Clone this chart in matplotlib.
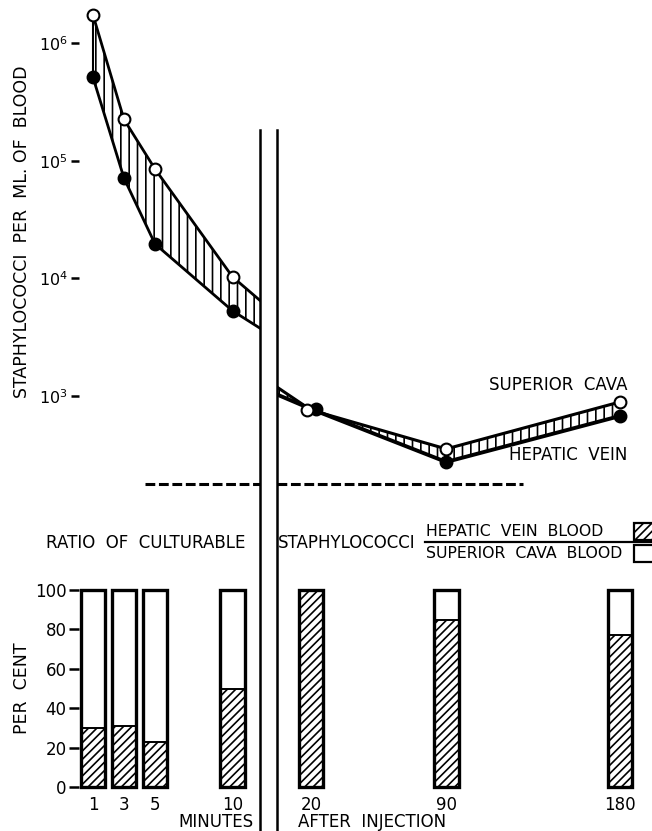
import matplotlib
matplotlib.use("Agg")
import matplotlib.pyplot as plt
from matplotlib.patches import Rectangle
from matplotlib.lines import Line2D
from matplotlib.transforms import ScaledTranslation

# ---------------- data ----------------
times_early = [1, 3, 5, 10]            # minutes, before the axis break
times_late = [20, 90, 180]             # minutes, after the axis break
cava_early = [1.73e6, 2.24e5, 8.5e4, 1.03e4]   # superior cava (open circles)
hep_early = [5.1e5, 7.1e4, 1.96e4, 5.3e3]      # hepatic vein (filled circles)
cava_late = [760, 355, 890]
hep_late = [776, 275, 676]
cava_entry = 1190     # level where the superior cava line re-enters after the break
hep_entry = 1030      # level where the hepatic vein line re-enters after the break
limit_level = 180     # dashed horizontal line
limit_from = 4.35
limit_to = 130

bar_times = [1, 3, 5, 10, 20, 90, 180]
bar_labels = ["1", "3", "5", "10", "20", "90", "180"]
hep_pct = [30, 31, 23, 50, 100, 85, 77]       # hatched part (hepatic vein blood)
pct_ticks = [0, 20, 40, 60, 80, 100]
log_ticks = [1e3, 1e4, 1e5, 1e6]

# ---------------- layout helpers ----------------
W, H = 652, 831
plt.rcParams["font.family"] = ["DejaVu Sans"]
plt.rcParams["hatch.linewidth"] = 1.2
fig = plt.figure(figsize=(W / 100, H / 100), dpi=100)


def ax_px(x0, y0, x1, y1):
    return fig.add_axes([x0 / W, 1 - y1 / H, (x1 - x0) / W, (y1 - y0) / H])


def t_left(px):   # pixel -> minutes, early panel
    return (px - 77.5) / 15.5


def t_right(px):  # pixel -> minutes, late panel
    return 20 + (px - 311) / 1.931


def fig_text(x, y, s, **kw):
    kw.setdefault("fontsize", 12)
    kw.setdefault("va", "center")
    fig.text(x / W, 1 - y / H, s, **kw)


# ---------------- top panel (log scale) ----------------
TOP0, TOP1 = 0, 495
dec = 117.67
ylo = 10 ** (6 - (TOP1 - 43) / dec)
yhi = 10 ** (6 + 43 / dec)

axTL = ax_px(79, TOP0, 260, TOP1)
axTR = ax_px(277, TOP0, 652, TOP1)
for ax in (axTL, axTR):
    ax.set_yscale("log")
    ax.set_ylim(ylo, yhi)
    ax.patch.set_alpha(0)
    for s in ax.spines.values():
        s.set_visible(False)
    ax.set_xticks([])
    ax.yaxis.set_minor_locator(plt.NullLocator())
axTL.set_xlim(t_left(79), t_left(260))
axTR.set_xlim(t_right(277), t_right(652))
axTL.set_yticks(log_ticks)
axTL.tick_params(axis="y", direction="out", length=6, width=1.8, pad=2, labelsize=11.5)
axTR.set_yticks([])

# early band (continues toward the 20-min values, clipped at the break)
t_l = times_early + [times_late[0]]
c_l = cava_early + [cava_late[0]]
h_l = hep_early + [hep_late[0]]
axTL.fill_between(t_l, h_l, c_l, facecolor="white", edgecolor="black",
                  hatch="||", linewidth=0)
axTL.plot(t_l, c_l, color="black", lw=2)
axTL.plot(t_l, h_l, color="black", lw=2)
axTL.vlines(times_early[0], hep_early[0], cava_early[0], color="black", lw=1.5)

# late band
tr0 = axTR.get_xlim()[0]
t_r = [tr0] + times_late
c_r = [cava_entry] + cava_late
h_r = [hep_entry] + hep_late
axTR.fill_between(t_r, h_r, c_r, facecolor="white", edgecolor="black",
                  hatch="||", linewidth=0)
axTR.plot(t_r, c_r, color="black", lw=2.2)
axTR.plot(t_r, h_r, color="black", lw=2.8)

# markers
open_kw = dict(marker="o", ms=8.5, mfc="white", mec="black", mew=1.5, ls="none", zorder=6)
fill_kw = dict(marker="o", ms=8.5, mfc="black", mec="black", mew=1.5, ls="none", zorder=5)
axTL.plot(times_early, cava_early, **open_kw)
axTL.plot(times_early, hep_early, **fill_kw)
axTR.plot(times_late[1:], cava_late[1:], **open_kw)
axTR.plot(times_late[1:], hep_late[1:], **fill_kw)
shiftL = axTR.transData + ScaledTranslation(-4 / 100, 0, fig.dpi_scale_trans)
shiftR = axTR.transData + ScaledTranslation(5 / 100, 0, fig.dpi_scale_trans)
axTR.plot(times_late[:1], hep_late[:1], transform=shiftR, **fill_kw)
axTR.plot(times_late[:1], cava_late[:1], transform=shiftL, **open_kw)

# dashed level
dash = dict(color="black", lw=2.2, linestyles=[(0, (3.2, 1.2))])
axTL.hlines(limit_level, limit_from, axTL.get_xlim()[1], **dash)
axTR.hlines(limit_level, tr0, limit_to, **dash)

fig_text(558, 385, "SUPERIOR  CAVA", ha="center")
fig_text(568, 455, "HEPATIC  VEIN", ha="center")
fig_text(22, 232, "STAPHYLOCOCCI  PER  ML. OF  BLOOD", ha="center", rotation=90,
         fontsize=12.5)

# ---------------- bottom panel (per cent bars) ----------------
B0, B1 = 580, 792
pz, p100 = 787, 590
scale = (pz - p100) / 100
axBL = ax_px(79, B0, 260, B1)
axBR = ax_px(277, B0, 652, B1)
for ax in (axBL, axBR):
    ax.set_ylim(-(B1 - pz) / scale, (pz - B0) / scale)
    ax.patch.set_alpha(0)
    for s in ax.spines.values():
        s.set_visible(False)
axBL.set_xlim(t_left(79), t_left(260))
axBR.set_xlim(t_right(277), t_right(652))
axBL.set_yticks(pct_ticks)
axBL.tick_params(axis="y", direction="out", length=7, width=1.8, pad=2, labelsize=12)
axBR.set_yticks([])

for t, lab, p in zip(bar_times, bar_labels, hep_pct):
    ax = axBL if t <= 10 else axBR
    w = 1.6 if t <= 10 else 12.9
    ax.bar(t, p, w, facecolor="white", edgecolor="black", hatch="////", lw=1.4)
    ax.bar(t, 100, w, fill=False, edgecolor="black", lw=2.4, zorder=4)

axBL.set_xticks(bar_times[:4], bar_labels[:4])
axBR.set_xticks(bar_times[4:], bar_labels[4:])
for ax in (axBL, axBR):
    ax.tick_params(axis="x", length=0, pad=3, labelsize=12)

fig_text(216, 822, "MINUTES", ha="center")
fig_text(372, 822, "AFTER  INJECTION", ha="center")
fig_text(146, 543, "RATIO  OF  CULTURABLE", ha="center")
fig_text(347, 543, "STAPHYLOCOCCI", ha="center")
fig_text(426, 532, "HEPATIC  VEIN  BLOOD", ha="left", fontsize=11.3)
fig_text(426, 553, "SUPERIOR  CAVA  BLOOD", ha="left", fontsize=11.3)
fig_text(22, 688, "PER  CENT", ha="center", rotation=90, fontsize=12.5)

# fraction bar and key boxes
fig.add_artist(Line2D([425 / W, 1], [1 - 542 / H] * 2, color="black", lw=1.6))
fig.add_artist(Rectangle((634 / W, 1 - 540 / H), 30 / W, 17 / H, transform=fig.transFigure,
                         facecolor="white", edgecolor="black", hatch="////", lw=1.6))
fig.add_artist(Rectangle((634 / W, 1 - 562 / H), 30 / W, 17 / H, transform=fig.transFigure,
                         facecolor="white", edgecolor="black", lw=1.6))

# axis-break lines
for xb in (260, 277):
    fig.add_artist(Line2D([xb / W] * 2, [1 - 130 / H, 0], color="black", lw=1.8))

fig.savefig("out.png", dpi=100)
